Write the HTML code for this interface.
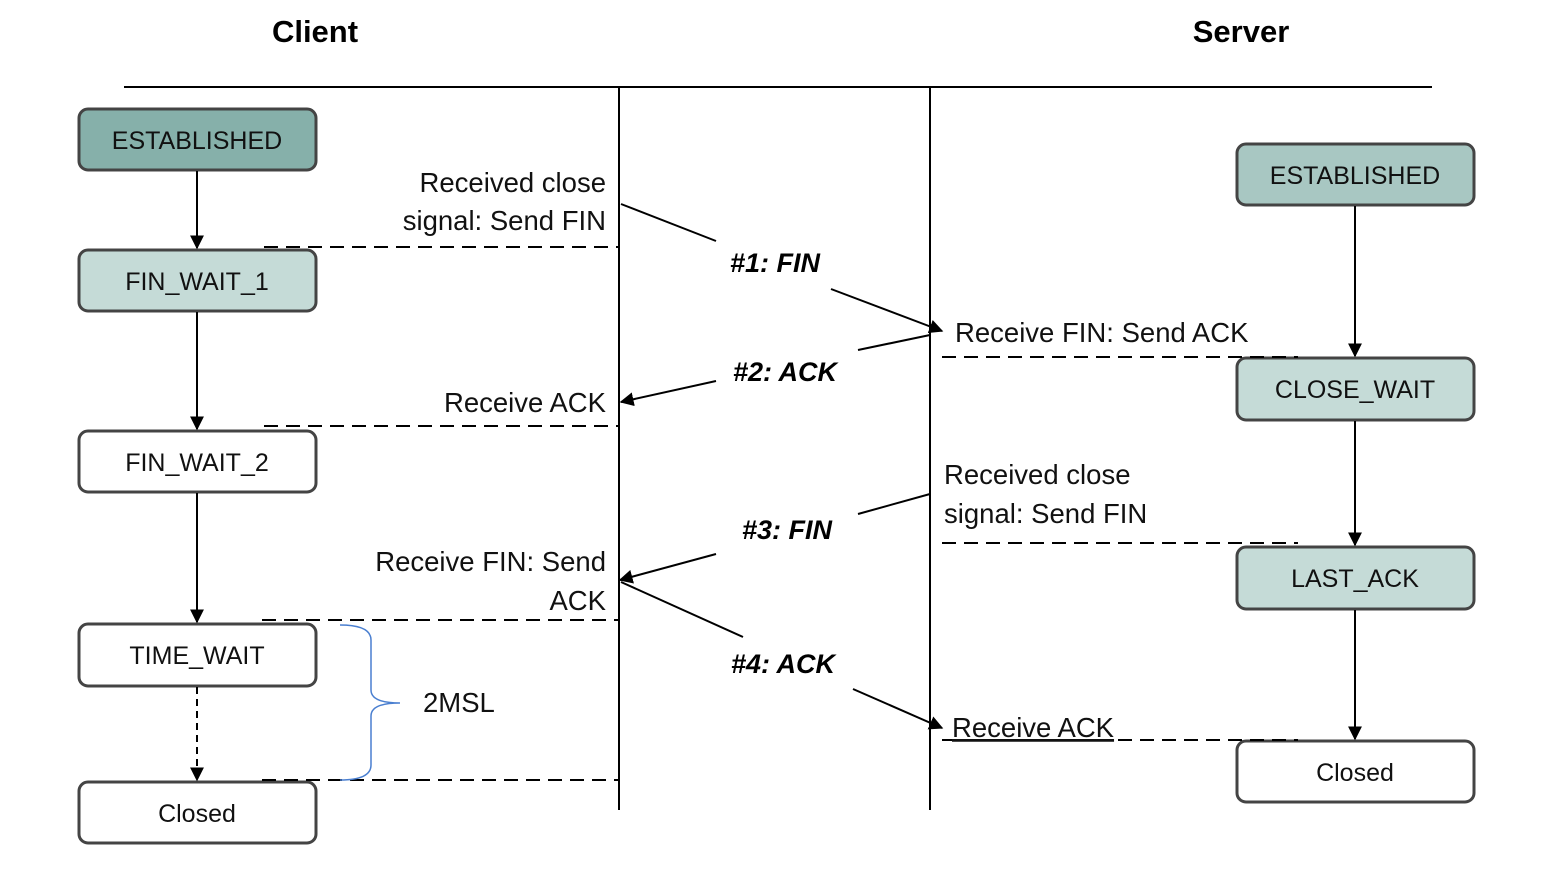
<!DOCTYPE html>
<html><head><meta charset="utf-8"><style>
html,body{margin:0;padding:0;background:#fff}
svg text{font-family:"Liberation Sans",sans-serif}
</style></head><body>
<svg width="1556" height="890" viewBox="0 0 1556 890" xmlns="http://www.w3.org/2000/svg">
<defs>
<marker id="a" viewBox="0 0 10 10" refX="9" refY="5" markerWidth="14" markerHeight="14" markerUnits="userSpaceOnUse" orient="auto"><path d="M0,0L10,5L0,10z" fill="#000"/></marker>
</defs>
<text x="315" y="42" font-size="31" font-weight="bold" text-anchor="middle">Client</text>
<text x="1241" y="42" font-size="31" font-weight="bold" text-anchor="middle">Server</text>
<line x1="124" y1="87" x2="1432" y2="87" stroke="#000" stroke-width="2"/>
<line x1="619" y1="87" x2="619" y2="810" stroke="#000" stroke-width="2"/>
<line x1="930" y1="87" x2="930" y2="810" stroke="#000" stroke-width="2"/>
<g stroke="#444" stroke-width="3">
<rect x="79" y="109" width="237" height="61" rx="9" fill="#86b0aa"/>
<rect x="79" y="250" width="237" height="61" rx="9" fill="#c5dbd7"/>
<rect x="79" y="431" width="237" height="61" rx="9" fill="#fff"/>
<rect x="79" y="624" width="237" height="62" rx="9" fill="#fff"/>
<rect x="79" y="782" width="237" height="61" rx="9" fill="#fff"/>
<rect x="1237" y="144" width="237" height="61" rx="9" fill="#a8c7c2"/>
<rect x="1237" y="358" width="237" height="62" rx="9" fill="#c5dbd7"/>
<rect x="1237" y="547" width="237" height="62" rx="9" fill="#c5dbd7"/>
<rect x="1237" y="741" width="237" height="61" rx="9" fill="#fff"/>
</g>
<g font-size="25" text-anchor="middle" fill="#111">
<text x="197" y="149">ESTABLISHED</text>
<text x="197" y="290">FIN_WAIT_1</text>
<text x="197" y="471">FIN_WAIT_2</text>
<text x="197" y="664">TIME_WAIT</text>
<text x="197" y="822">Closed</text>
<text x="1355" y="184">ESTABLISHED</text>
<text x="1355" y="398">CLOSE_WAIT</text>
<text x="1355" y="587">LAST_ACK</text>
<text x="1355" y="781">Closed</text>
</g>
<g stroke="#000" stroke-width="2" marker-end="url(#a)">
<line x1="197" y1="171" x2="197" y2="248"/>
<line x1="197" y1="312" x2="197" y2="429"/>
<line x1="197" y1="493" x2="197" y2="622"/>
<line x1="197" y1="687" x2="197" y2="780" stroke-dasharray="7,5"/>
<line x1="1355" y1="206" x2="1355" y2="356"/>
<line x1="1355" y1="421" x2="1355" y2="545"/>
<line x1="1355" y1="610" x2="1355" y2="739"/>
</g>
<g stroke="#000" stroke-width="2" stroke-dasharray="14,8" fill="none">
<line x1="264" y1="247" x2="619" y2="247"/>
<line x1="264" y1="426" x2="619" y2="426"/>
<line x1="262" y1="620" x2="619" y2="620"/>
<line x1="262" y1="780" x2="619" y2="780"/>
<line x1="942" y1="357" x2="1298" y2="357"/>
<line x1="942" y1="543" x2="1298" y2="543"/>
<line x1="942" y1="740" x2="1298" y2="740"/>
</g>
<g stroke="#000" stroke-width="2" fill="none">
<line x1="621" y1="204" x2="716" y2="241"/>
<line x1="831" y1="289" x2="942" y2="331" marker-end="url(#a)"/>
<line x1="930" y1="335" x2="858" y2="350"/>
<line x1="716" y1="381" x2="621" y2="402" marker-end="url(#a)"/>
<line x1="930" y1="494" x2="858" y2="514"/>
<line x1="716" y1="554" x2="620" y2="580" marker-end="url(#a)"/>
<line x1="621" y1="582" x2="743" y2="637"/>
<line x1="853" y1="689" x2="942" y2="728" marker-end="url(#a)"/>
</g>
<g font-size="27" font-weight="bold" font-style="italic" text-anchor="middle">
<text x="775" y="272">#1: FIN</text>
<text x="785" y="381">#2: ACK</text>
<text x="787" y="539">#3: FIN</text>
<text x="783" y="673">#4: ACK</text>
</g>
<g font-size="27.5" fill="#111">
<text x="606" y="192" text-anchor="end">Received close</text>
<text x="606" y="230" text-anchor="end">signal: Send FIN</text>
<text x="606" y="412" text-anchor="end">Receive ACK</text>
<text x="606" y="571" text-anchor="end">Receive FIN: Send</text>
<text x="606" y="610" text-anchor="end">ACK</text>
<text x="955" y="342">Receive FIN: Send ACK</text>
<text x="944" y="484">Received close</text>
<text x="944" y="523">signal: Send FIN</text>
<text x="952" y="737" text-decoration="underline">Receive ACK</text>
<text x="423" y="712">2MSL</text>
</g>
<path d="M340,625 Q371,625 371,640 L371,690 Q371,703 400,703 Q371,703 371,716 L371,765 Q371,780 340,780" stroke="#4a7fd0" stroke-width="1.5" fill="none"/>
</svg>
</body></html>
